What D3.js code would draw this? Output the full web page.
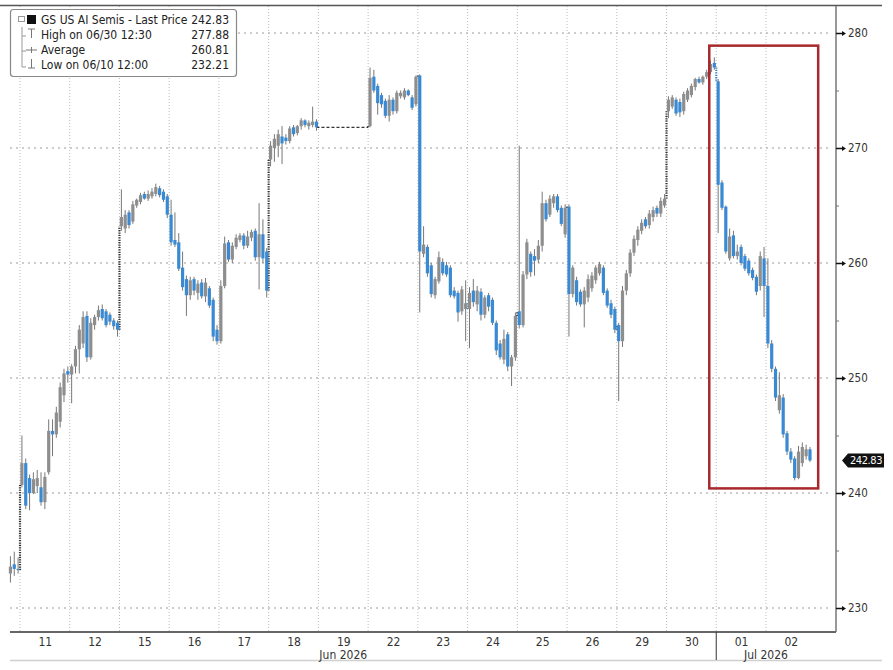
<!DOCTYPE html>
<html>
<head>
<meta charset="utf-8">
<script src="https://cdn.jsdelivr.net/npm/d3@7"></script>
<style>
  body { margin: 0; background: #fff; }
  text { font-family: "Liberation Sans Narrow", "DejaVu Sans Condensed", "Arial Narrow", "Liberation Sans", sans-serif; font-stretch: condensed; }
</style>
</head>
<body>
<div id="container"></div>
<script>
let w = 893;
let h = 670;

// ---- data: 30 min bars, [open, high, low, close] ----
let jun10 = [[233.0,234.5,232.21,233.6],[233.8,234.9,232.8,233.4],[233.4,234.4,233.0,233.3]];
let jun11 = [[240.7,245.0,240.5,242.6],[242.6,243.0,238.6,238.9],[241.3,241.6,238.5,240.0],[240.0,241.8,239.9,241.2],
  [240.6,242.0,240.0,241.3],[240.5,241.8,238.9,239.2],[239.2,241.8,238.6,241.4],[241.8,246.4,241.6,245.4],
  [245.4,246.4,243.2,245.1],[245.1,247.5,244.8,247.0],[246.2,249.6,245.7,249.2],[248.5,250.8,247.9,250.4],[250.6,251.0,249.6,250.3]];
let jun12 = [[250.3,251.2,247.8,251.0],[251.0,252.8,250.4,252.5],[252.5,254.6,250.4,254.2],[253.0,255.8,252.6,255.3],
  [255.4,255.8,251.4,251.8],[251.8,255.2,251.6,254.8],[254.6,255.5,254.2,255.3],[255.3,256.3,255.0,255.9],
  [256.0,256.4,255.0,255.2],[255.8,256.0,254.4,254.6],[255.5,255.7,254.6,254.9],[255.0,255.2,254.2,254.5],[254.8,255.0,253.6,254.2]];
let jun15 = [[263.2,266.4,262.8,264.0],[263.0,264.6,262.6,264.2],[264.4,264.6,263.0,263.3],[263.6,265.4,263.4,265.1],
  [265.0,265.6,264.8,265.5],[265.3,266.1,265.1,265.9],[266.0,266.2,265.5,265.6],[265.6,266.3,265.4,266.0],
  [265.8,266.5,265.6,266.2],[266.0,266.9,265.8,266.6],[266.5,266.7,265.7,265.9],[266.2,266.4,265.3,265.5],[265.8,266.0,263.9,264.2]];
let jun16 = [[264.2,265.5,261.5,261.8],[262.0,264.4,261.4,261.6],[261.8,262.6,259.3,259.5],[259.6,261.0,257.6,257.9],
  [258.6,258.9,255.4,257.2],[257.2,258.8,256.8,258.5],[258.6,258.8,257.2,257.6],[257.4,258.5,256.8,258.2],
  [258.3,258.6,256.9,257.1],[257.1,258.7,256.6,258.3],[257.8,258.0,256.1,256.3],[256.8,257.0,253.2,253.6],[254.2,254.6,252.9,253.2]];
let jun17 = [[253.2,258.5,253.0,258.0],[258.0,262.3,257.8,261.7],[261.8,262.0,260.1,260.3],[260.3,261.8,260.0,261.5],
  [261.4,262.5,261.2,262.2],[262.0,262.6,261.8,262.4],[262.4,262.6,261.2,261.5],[261.5,262.8,261.3,262.3],
  [262.2,262.9,261.9,262.7],[262.8,263.0,260.2,260.5],[260.5,265.2,257.7,262.5],[262.5,263.8,260.0,260.4],[261.0,261.3,257.0,257.6]];
let jun18 = [[269.0,270.6,268.4,270.2],[270.0,271.2,268.8,270.8],[270.2,271.6,269.2,271.2],[271.0,271.9,268.6,270.4],
  [270.9,271.2,270.3,270.6],[270.6,271.9,270.4,271.7],[271.8,272.0,271.0,271.2],[271.3,272.0,271.1,271.9],
  [271.9,272.6,271.6,272.4],[272.4,272.5,271.8,272.0],[271.9,272.4,271.6,272.2],[272.0,273.6,271.8,272.3],[272.3,272.5,271.5,271.8]];
let jun22 = [[271.9,277.0,271.8,276.1],[276.2,276.8,274.8,275.0],[275.4,275.6,272.9,273.9],[274.6,274.8,273.5,273.8],
  [274.1,274.3,272.6,272.8],[272.8,274.6,272.3,274.2],[274.2,274.4,272.9,273.2],[273.2,275.0,273.0,274.8],
  [274.5,275.0,274.3,274.8],[274.4,275.2,274.2,275.0],[275.0,275.1,274.5,274.6],[274.4,274.6,273.3,273.5],[273.8,276.3,273.6,276.2]];
let jun23 = [[276.3,276.4,255.7,261.0],[260.8,263.2,260.5,261.6],[261.4,261.6,258.8,259.1],[259.8,260.0,257.0,257.3],
  [257.2,258.8,256.9,258.6],[258.4,261.0,258.2,260.5],[260.1,260.4,258.9,259.1],[259.8,260.1,258.8,259.0],
  [259.6,259.8,257.0,257.2],[257.6,257.9,256.9,257.1],[257.4,257.6,254.9,255.7],[255.8,258.0,255.5,257.7],[256.0,258.5,253.2,256.5]];
let jun24 = [[256.0,257.9,252.6,257.4],[257.6,258.6,256.2,256.6],[256.4,258.0,255.8,257.6],[257.5,257.8,255.0,255.5],
  [255.5,257.2,255.2,257.0],[257.2,257.4,255.8,256.2],[256.8,257.0,254.6,254.8],[254.8,255.0,252.0,252.4],
  [253.0,253.3,251.6,251.8],[251.6,254.2,251.2,253.4],[253.8,254.0,250.6,251.0],[251.0,252.0,249.3,251.8],[251.8,255.7,251.5,255.4]];
let jun25 = [[255.8,270.2,254.3,254.6],[254.6,259.3,254.4,259.0],[259.0,262.1,258.6,261.8],[260.8,261.0,258.8,259.2],
  [260.6,261.2,258.9,260.2],[260.3,262.0,260.0,261.5],[261.5,266.2,261.0,265.2],[265.2,265.5,263.6,263.8],
  [264.2,265.9,264.0,265.6],[265.2,266.0,264.8,265.8],[265.8,266.0,264.4,264.6],[264.8,265.0,263.2,263.4],[262.5,265.1,262.2,264.8]];
let jun26 = [[264.9,265.1,253.6,257.3],[257.3,259.8,257.0,259.6],[258.5,258.8,256.3,256.6],[257.5,257.7,256.2,256.4],
  [256.4,257.9,254.4,257.6],[257.0,259.0,256.6,258.6],[257.8,259.2,257.5,258.9],[258.5,259.8,258.2,259.6],
  [259.1,260.1,258.9,259.9],[259.6,259.8,257.2,257.4],[257.6,257.8,256.1,256.3],[256.5,256.8,255.2,255.5],[256.0,256.2,253.9,254.2]];
let jun29 = [[254.6,254.8,248.0,253.2],[253.2,258.0,252.7,257.6],[257.6,259.4,257.2,259.1],[259.1,261.2,258.8,260.9],
  [260.9,262.4,260.6,262.1],[262.0,263.2,261.5,262.9],[262.8,263.8,262.5,263.5],[263.8,264.0,263.0,263.2],
  [263.3,264.6,263.0,264.3],[264.0,264.9,263.6,264.6],[264.8,265.0,264.0,264.3],[264.3,265.7,264.0,265.4],[265.0,266.0,264.8,265.6]];
let jun30 = [[273.2,274.5,272.6,274.2],[273.6,274.6,273.4,274.4],[274.2,274.4,272.8,273.0],[274.0,274.3,272.7,273.1],
  [273.2,274.9,272.9,274.7],[274.2,275.2,274.0,275.0],[274.6,275.6,274.4,275.4],[275.3,276.1,275.0,276.0],
  [276.0,276.2,275.6,275.7],[275.7,276.3,275.5,276.2],[276.2,276.8,276.0,276.6],[276.6,277.6,276.4,277.3],[277.4,277.88,276.8,277.0]];
let jul01 = [[275.8,276.0,262.6,266.8],[267.0,267.2,264.6,264.8],[264.9,265.0,260.8,261.0],[260.4,263.0,260.2,262.3],
  [262.4,262.8,260.4,260.6],[260.6,261.6,260.3,261.0],[261.4,261.6,259.8,260.0],[260.6,260.8,259.3,259.5],
  [260.2,260.4,258.9,259.1],[259.4,259.6,258.5,258.7],[258.8,259.0,257.2,257.5],[258.0,261.0,257.6,260.6],[260.4,261.4,255.3,258.0]];
let jul02 = [[258.0,260.4,252.6,253.0],[253.0,253.3,250.5,250.8],[250.8,251.0,248.0,248.3],[247.2,250.5,246.9,248.5],
  [248.3,248.6,244.8,245.1],[245.2,245.4,243.3,243.6],[243.6,243.9,242.6,242.9],[243.0,243.2,241.1,241.3],
  [241.3,244.1,241.2,243.6],[242.6,244.4,242.3,244.0],[243.2,244.2,242.9,243.8],[243.8,244.0,242.7,242.83]];

// sessions in day slots (06/19 holiday has no bars), first = index of first bar inside its 13-bar day
let sessions = [
  {day: -1, first: 10, bars: jun10}, {day: 0, first: 0, bars: jun11}, {day: 1, first: 0, bars: jun12},
  {day: 2, first: 0, bars: jun15}, {day: 3, first: 0, bars: jun16}, {day: 4, first: 0, bars: jun17},
  {day: 5, first: 0, bars: jun18}, {day: 7, first: 0, bars: jun22}, {day: 8, first: 0, bars: jun23},
  {day: 9, first: 0, bars: jun24}, {day: 10, first: 0, bars: jun25}, {day: 11, first: 0, bars: jun26},
  {day: 12, first: 0, bars: jun29}, {day: 13, first: 0, bars: jun30}, {day: 14, first: 0, bars: jul01},
  {day: 15, first: 0, bars: jul02}
];
let barsPerDay = 13;

let dayLabels = ["11","12","15","16","17","18","19","22","23","24","25","26","29","30","01","02"];
let monthLabels = [["Jun 2026", 6.5], ["Jul 2026", 15]];
let monthBreaks = [14];
let yTicks = [230, 240, 250, 260, 270, 280];
let yMinor = [235, 245, 255, 265, 275];

let legendRows = [
  ["GS US AI Semis - Last Price", "242.83"],
  ["High on 06/30 12:30", "277.88"],
  ["Average", "260.81"],
  ["Low on 06/10 12:00", "232.21"]
];
let lastPrice = 242.83;
// highlighted zone: day slots and price levels
let boxFrom = 13.86, boxTo = 16.05, boxTop = 278.9, boxBottom = 240.4;

// ---- layout ----
let plotLeft = 10, plotRight = 836, plotTop = 6, plotBottom = 632;

let viz = d3.select("#container")
  .append("svg")
  .attr("width", w)
  .attr("height", h)
  .style("background-color", "white");

let xScale = d3.scaleLinear().domain([0, 16]).range([20, 815.7]);
let yScale = d3.scaleLinear().domain([230, 280]).range([608, 33]);
let slotW = (xScale(1) - xScale(0)) / barsPerDay;

// flatten bars with positions
let allBars = [];
sessions.forEach(function(s){
  s.bars.forEach(function(b, j){
    allBars.push({pos: s.day + (s.first + j + 0.5) / barsPerDay, o: b[0], h: b[1], l: b[2], c: b[3]});
  });
});

// gridlines
let grid = viz.append("g").attr("class", "grid");
grid.selectAll(".hgrid").data(yTicks).enter().append("line")
  .attr("x1", plotLeft).attr("x2", plotRight - 6)
  .attr("y1", d => yScale(d)).attr("y2", d => yScale(d))
  .style("stroke", "#9a9a9a").style("stroke-width", 1).style("stroke-dasharray", "2,4");
grid.selectAll(".vgrid").data(d3.range(16)).enter().append("line")
  .attr("x1", d => xScale(d)).attr("x2", d => xScale(d))
  .attr("y1", plotTop).attr("y2", plotBottom)
  .style("stroke", "#bcbcbc").style("stroke-width", 1).style("stroke-dasharray", "1,2");

// frame lines
viz.append("line").attr("x1", 0).attr("x2", 882).attr("y1", 5.5).attr("y2", 5.5)
  .style("stroke", "#555").style("stroke-width", 1.5);
viz.append("line").attr("x1", plotLeft).attr("x2", 882).attr("y1", 660.5).attr("y2", 660.5)
  .style("stroke", "#d0d0d0").style("stroke-width", 1.5);

// gap connectors between sessions
let connectors = viz.append("g").attr("class", "connectors");
for (let i = 1; i < sessions.length; i++) {
  let prev = sessions[i-1], next = sessions[i];
  let pc = prev.bars[prev.bars.length - 1][3];
  let no = next.bars[0][0];
  let xa = xScale(prev.day + 1), xb = xScale(next.day);
  if (xb > xa) {
    connectors.append("line")
      .attr("x1", xa - slotW / 2).attr("x2", xb)
      .attr("y1", yScale(pc)).attr("y2", yScale(pc))
      .style("stroke", "#333").style("stroke-width", 1.3).style("stroke-dasharray", "3,2");
  }
  connectors.append("line")
    .attr("x1", xb).attr("x2", xb)
    .attr("y1", yScale(pc)).attr("y2", yScale(no))
    .style("stroke", no >= pc ? "#333" : "#3a8ad3")
    .style("stroke-width", 2.2).style("stroke-dasharray", "1.2,1.2");
}

// candles
let candles = viz.append("g").attr("class", "candles")
  .selectAll(".candle").data(allBars).enter()
  .append("g").attr("class", "candle")
  .attr("transform", d => "translate(" + xScale(d.pos) + ",0)");

candles.append("line")
  .attr("x1", 0).attr("x2", 0)
  .attr("y1", d => yScale(d.h)).attr("y2", d => yScale(d.l))
  .style("stroke", "#777").style("stroke-width", 1);

candles.append("rect")
  .attr("x", -1.6).attr("width", 3.2)
  .attr("y", d => yScale(Math.max(d.o, d.c)))
  .attr("height", d => Math.max(1, Math.abs(yScale(d.o) - yScale(d.c))))
  .style("fill", d => d.c >= d.o ? "#8e8e8e" : "#3a8ad3");

// bottom axis
let xAxisGroup = viz.append("g").attr("class", "xAxis")
  .attr("transform", "translate(0," + plotBottom + ")");
let xAxis = d3.axisBottom(xScale)
  .tickValues(d3.range(16).map(d => d + 0.5))
  .tickFormat((d, i) => dayLabels[i])
  .tickSize(0).tickPadding(5);
xAxisGroup.call(xAxis);
xAxisGroup.select(".domain").remove();
xAxisGroup.selectAll("text").style("font-size", "12px").style("fill", "#333");

viz.append("line").attr("x1", plotLeft).attr("x2", plotRight).attr("y1", plotBottom).attr("y2", plotBottom)
  .style("stroke", "#666").style("stroke-width", 2);

viz.selectAll(".monthbreak").data(monthBreaks).enter().append("line")
  .attr("x1", d => xScale(d)).attr("x2", d => xScale(d))
  .attr("y1", plotBottom).attr("y2", 660)
  .style("stroke", "#333").style("stroke-width", 1);

viz.selectAll(".month").data(monthLabels).enter().append("text")
  .attr("x", d => xScale(d[1])).attr("y", 659)
  .attr("text-anchor", "middle")
  .style("font-size", "12px").style("fill", "#333")
  .text(d => d[0]);

// right axis
viz.append("line").attr("x1", plotRight).attr("x2", plotRight).attr("y1", plotTop).attr("y2", plotBottom)
  .style("stroke", "#777").style("stroke-width", 1.5);

let yAxisGroup = viz.append("g").attr("class", "yAxis")
  .attr("transform", "translate(" + plotRight + ",0)");
let yAxis = d3.axisRight(yScale).tickValues(yTicks).tickSize(0).tickPadding(12);
yAxisGroup.call(yAxis);
yAxisGroup.select(".domain").remove();
yAxisGroup.selectAll("text").style("font-size", "11.5px").style("fill", "#333");
yAxisGroup.selectAll(".tick").append("path")
  .attr("d", "M0,-0.7H6V-2.5L10,0L6,2.5V0.7H0Z")
  .style("fill", "#111");

let yMinorAxis = d3.axisRight(yScale).tickValues(yMinor).tickSize(3).tickFormat("");
let yMinorGroup = viz.append("g").attr("transform", "translate(" + plotRight + ",0)").call(yMinorAxis);
yMinorGroup.select(".domain").remove();
yMinorGroup.selectAll("line").style("stroke", "#777");

// last price tag
let tag = viz.append("g").attr("transform", "translate(" + plotRight + "," + yScale(lastPrice) + ")");
tag.append("path")
  .attr("d", "M6,0L12,-7H48V7H12Z")
  .style("fill", "#111");
tag.append("text")
  .attr("x", 30).attr("y", 4).attr("text-anchor", "middle")
  .style("font-size", "11px").style("letter-spacing", "-0.4px").style("fill", "white")
  .text(lastPrice.toFixed(2));

// highlight box
viz.append("rect")
  .attr("x", xScale(boxFrom)).attr("y", yScale(boxTop))
  .attr("width", xScale(boxTo) - xScale(boxFrom))
  .attr("height", yScale(boxBottom) - yScale(boxTop))
  .style("fill", "none").style("stroke", "#a8282c").style("stroke-width", 2.5);

// legend
let legend = viz.append("g").attr("class", "legend");
legend.append("rect").attr("x", 10.5).attr("y", 9.5).attr("width", 226).attr("height", 67).attr("rx", 3)
  .style("fill", "white").style("stroke", "#888").style("stroke-width", 1.2);
let rowY = [24, 39, 54, 69];
legend.append("path")
  .attr("d", "M22," + (rowY[0] + 3) + "V" + (rowY[3] - 2) + "H26M22," + (rowY[1] - 3) + "H26M22," + (rowY[2] - 3) + "H26")
  .style("fill", "none").style("stroke", "#999").style("stroke-width", 1);
legend.append("rect").attr("x", 18.5).attr("y", rowY[0] - 7.5).attr("width", 6).attr("height", 5)
  .style("fill", "none").style("stroke", "#999");
legend.append("rect").attr("x", 27).attr("y", rowY[0] - 9).attr("width", 9).attr("height", 9).style("fill", "#111");
legend.append("path").attr("d", "M28," + (rowY[1] - 10) + "H35M31.5," + (rowY[1] - 10) + "V" + (rowY[1] - 1))
  .style("stroke", "#777").style("stroke-width", 1).style("fill", "none");
legend.append("path").attr("d", "M26," + (rowY[2] - 4) + "H37M31.5," + (rowY[2] - 7) + "V" + (rowY[2] - 1))
  .style("stroke", "#777").style("stroke-width", 1).style("fill", "none");
legend.append("path").attr("d", "M31.5," + (rowY[3] - 10) + "V" + (rowY[3] - 1) + "M28," + (rowY[3] - 1) + "H35")
  .style("stroke", "#777").style("stroke-width", 1).style("fill", "none");

legend.selectAll(".lname").data(legendRows).enter().append("text")
  .attr("x", 41).attr("y", (d, i) => rowY[i])
  .style("font-size", "12px").style("fill", "#222")
  .text(d => d[0]);
legend.selectAll(".lval").data(legendRows).enter().append("text")
  .attr("x", 229).attr("y", (d, i) => rowY[i]).attr("text-anchor", "end")
  .style("font-size", "12px").style("fill", "#222")
  .text(d => d[1]);
</script>
</body>
</html>
